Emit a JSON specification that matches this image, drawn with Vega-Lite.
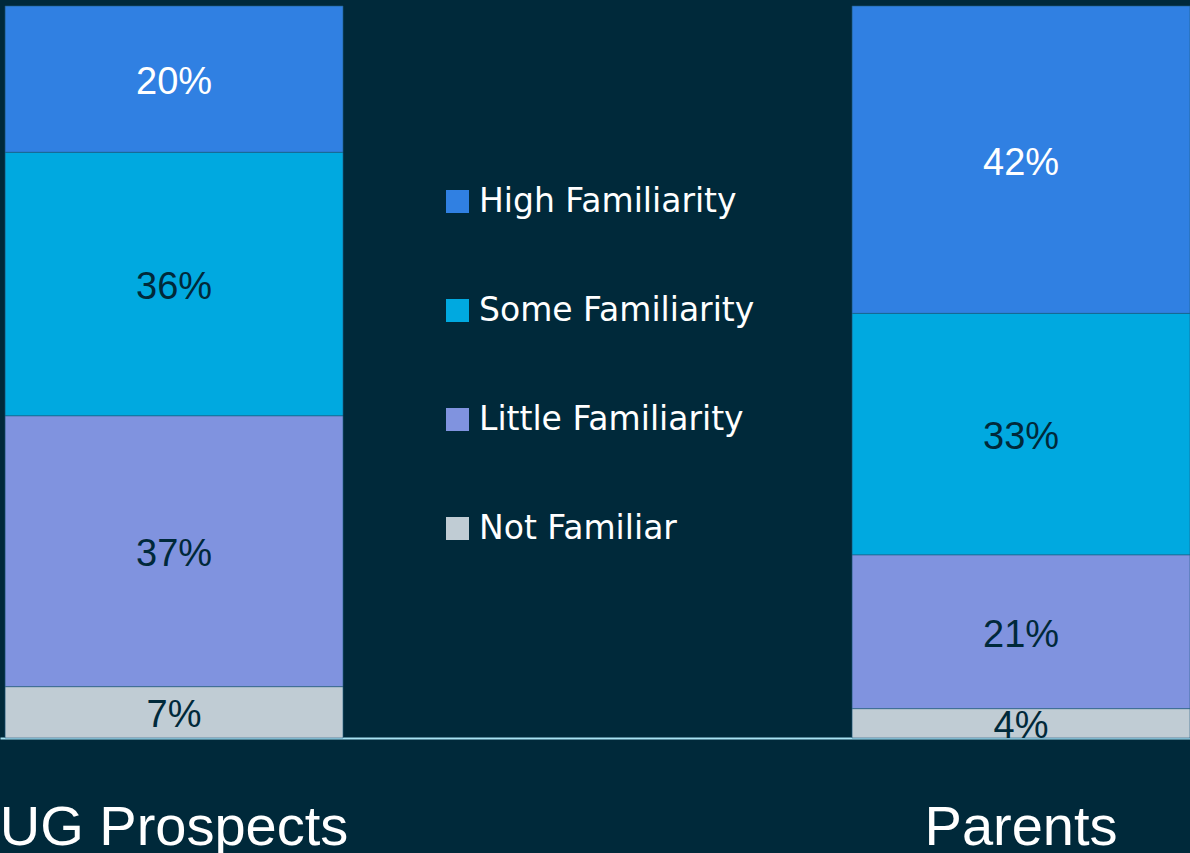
{
  "$schema": "https://vega.github.io/schema/vega-lite/v6.json",
  "width": 1190,
  "height": 732,
  "autosize": {"type": "none"},
  "padding": {"top": 6, "left": 0, "right": 0, "bottom": 115},
  "background": "#00293a",
  "config": {"view": {"stroke": null}, "font": "Liberation Sans"},
  "data": {
    "values": [
      {"group": "UG Prospects", "level": "High Familiarity", "share": 0.20},
      {"group": "UG Prospects", "level": "Some Familiarity", "share": 0.36},
      {"group": "UG Prospects", "level": "Little Familiarity", "share": 0.37},
      {"group": "UG Prospects", "level": "Not Familiar", "share": 0.07},
      {"group": "Parents", "level": "High Familiarity", "share": 0.42},
      {"group": "Parents", "level": "Some Familiarity", "share": 0.33},
      {"group": "Parents", "level": "Little Familiarity", "share": 0.21},
      {"group": "Parents", "level": "Not Familiar", "share": 0.04}
    ]
  },
  "transform": [
    {"calculate": "indexof(['Not Familiar','Little Familiarity','Some Familiarity','High Familiarity'], datum.level)", "as": "rank"},
    {"stack": "share", "groupby": ["group"], "sort": [{"field": "rank", "order": "ascending"}], "as": ["y0", "y1"]},
    {"calculate": "(datum.y0 + datum.y1) / 2", "as": "ymid"}
  ],
  "encoding": {
    "x": {
      "field": "group",
      "type": "nominal",
      "sort": ["UG Prospects", "Parents"],
      "scale": {"paddingInner": 0.601, "paddingOuter": 0.003, "align": 1},
      "axis": {
        "title": null,
        "labelAngle": 0,
        "labelFontSize": 56,
        "labelColor": "#ffffff",
        "labelPadding": 62,
        "labelLimit": 0,
        "ticks": false,
        "tickSize": 0,
        "domainColor": "#a8e2f2",
        "domainWidth": 2,
        "labelOverlap": false,
        "labelBound": false
      }
    }
  },
  "layer": [
    {
      "mark": {"type": "bar", "stroke": "#1f5a80", "strokeWidth": 0.6},
      "encoding": {
        "y": {"field": "y0", "type": "quantitative", "scale": {"domain": [0, 1], "nice": false}, "axis": null},
        "y2": {"field": "y1"},
        "color": {
          "field": "level",
          "type": "nominal",
          "scale": {
            "domain": ["High Familiarity", "Some Familiarity", "Little Familiarity", "Not Familiar"],
            "range": ["#3080e2", "#00a9e0", "#8093df", "#c0ccd4"]
          },
          "legend": {
            "orient": "none",
            "legendX": 441,
            "legendY": 179,
            "title": null,
            "padding": 0,
            "symbolType": "square",
            "symbolSize": 529,
            "symbolStrokeWidth": 0,
            "symbolOpacity": 1,
            "labelFont": "DejaVu Sans",
            "labelFontSize": 33,
            "labelColor": "#ffffff",
            "labelOffset": 5,
            "rowPadding": 75,
            "labelLimit": 400
          }
        }
      }
    },
    {
      "mark": {"type": "text", "fontSize": 38, "dy": 4, "clip": true},
      "encoding": {
        "y": {"field": "ymid", "type": "quantitative"},
        "text": {"field": "share", "type": "quantitative", "format": ".0%"},
        "color": {
          "condition": {"test": "datum.level === 'High Familiarity'", "value": "#ffffff"},
          "value": "#00293a"
        }
      }
    }
  ]
}
